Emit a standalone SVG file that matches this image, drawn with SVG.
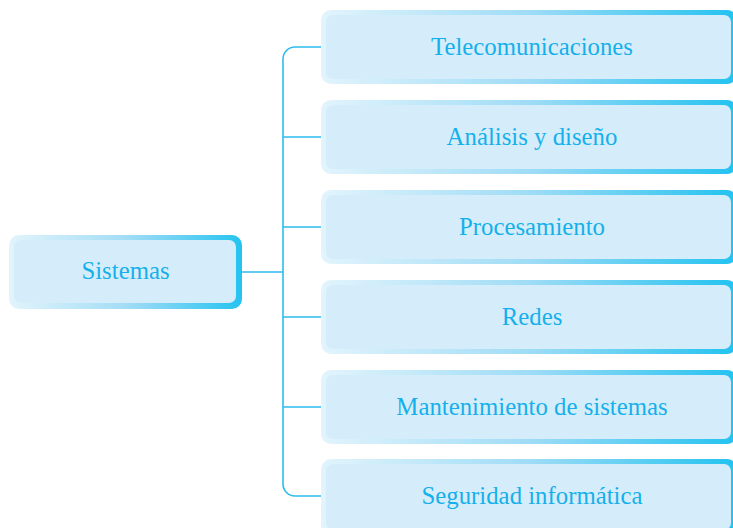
<svg xmlns="http://www.w3.org/2000/svg" width="733" height="528" viewBox="0 0 733 528">
<defs>
<linearGradient id="gR" x1="0" y1="0" x2="1" y2="0">
<stop offset="0" stop-color="#e2f4fc"/>
<stop offset="0.5" stop-color="#9fdcf6"/>
<stop offset="1" stop-color="#22c2f0"/>
</linearGradient>
<linearGradient id="gL" x1="0" y1="0" x2="1" y2="0">
<stop offset="0" stop-color="#e2f4fc"/>
<stop offset="0.5" stop-color="#a3ddf6"/>
<stop offset="1" stop-color="#25c3f0"/>
</linearGradient>
<style>
.o{fill:url(#gR)}
.i{fill:#d5edfa}
.t{font-family:"Liberation Serif","Times New Roman",serif;font-size:24.8px;fill:#15b0eb;text-anchor:middle}
.c{fill:none;stroke:#2dbcee;stroke-width:1.6}
</style>
</defs>
<rect width="733" height="528" fill="#ffffff"/>
<g id="connectors">
<path class="c" d="M321,47 H295 A12,12 0 0 0 283,59 V484 A12,12 0 0 0 295,496 H321"/>
<path class="c" d="M283,137 H321 M283,227 H321 M283,317 H321 M283,407 H321 M242,272 H283"/>
</g>
<g id="sistemas">
<rect x="9" y="235" width="233" height="74" rx="10" fill="url(#gL)"/>
<rect x="14" y="240" width="222" height="63" rx="7" class="i"/>
<text x="125.5" y="279" class="t">Sistemas</text>
</g>
<g id="telecomunicaciones">
<rect x="321" y="10" width="416" height="74" rx="10" class="o"/>
<rect x="326" y="15" width="405" height="64" rx="7" class="i"/>
<text x="532" y="55" class="t">Telecomunicaciones</text>
</g>
<g id="analisis">
<rect x="321" y="100" width="416" height="74" rx="10" class="o"/>
<rect x="326" y="105" width="405" height="64" rx="7" class="i"/>
<text x="532" y="145" class="t">Análisis y diseño</text>
</g>
<g id="procesamiento">
<rect x="321" y="190" width="416" height="74" rx="10" class="o"/>
<rect x="326" y="195" width="405" height="64" rx="7" class="i"/>
<text x="532" y="235" class="t">Procesamiento</text>
</g>
<g id="redes">
<rect x="321" y="280" width="416" height="74" rx="10" class="o"/>
<rect x="326" y="285" width="405" height="64" rx="7" class="i"/>
<text x="532" y="325" class="t">Redes</text>
</g>
<g id="mantenimiento">
<rect x="321" y="370" width="416" height="74" rx="10" class="o"/>
<rect x="326" y="375" width="405" height="64" rx="7" class="i"/>
<text x="532" y="415" class="t">Mantenimiento de sistemas</text>
</g>
<g id="seguridad">
<rect x="321" y="459" width="416" height="76" rx="10" class="o"/>
<rect x="326" y="464" width="405" height="66" rx="7" class="i"/>
<text x="532" y="504" class="t">Seguridad informática</text>
</g>
</svg>
